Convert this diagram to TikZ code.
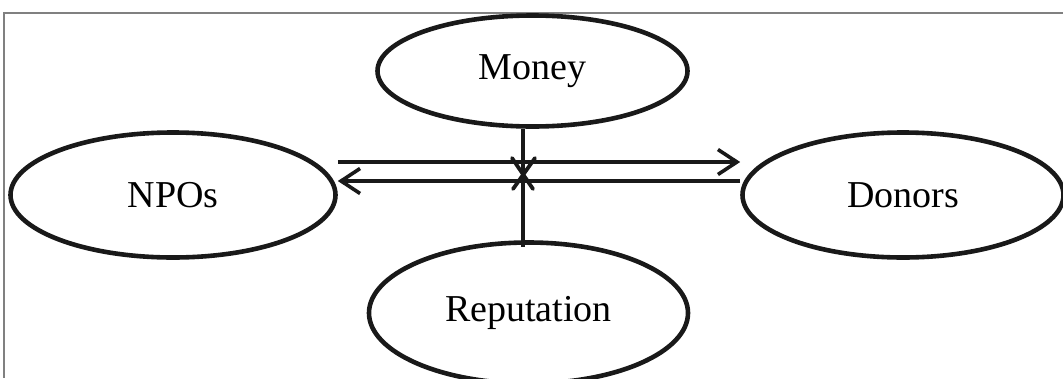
\documentclass[tikz,border=0pt]{standalone}
\usepackage{fontspec}
\setmainfont{Liberation Serif}
\usetikzlibrary{shapes.geometric,arrows.meta}
\begin{document}
\begin{tikzpicture}[x=1pt,y=-1pt,
  oval/.style={draw=black!90,line width=4.6pt,ellipse,inner sep=0pt,font=\fontsize{38}{40}\selectfont},
  arr/.style={draw=black!90,line width=3.6pt,-{Straight Barb[length=19pt,width=25pt,line width=3.6pt]}},
  frame/.style={draw=black!50,line width=1.8pt}]
\useasboundingbox (0,0) rectangle (1063,378);
\draw[frame] (1063,13) -- (4,13) -- (4,378);
\node[oval,minimum width=310pt,minimum height=111pt] (money) at (532.5,71) {Money};
\node[oval,minimum width=325pt,minimum height=125pt] (npos) at (173,195) {NPOs};
\node[oval,minimum width=321pt,minimum height=125pt] (donors) at (903,195) {Donors};
\node[oval,minimum width=319pt,minimum height=141pt] (rep) at (528.5,313) {Reputation};
\draw[arr] ([yshift=33pt]npos.east) -- ([yshift=33pt]donors.west);
\draw[arr] ([yshift=14pt]donors.west) -- ([yshift=14pt]npos.east);
\coordinate (top) at ([xshift=-9.5pt]money.south);
\coordinate (bot) at (top |- 0,247);
\draw[draw=black!90,line width=4pt] (top) -- (bot);
\coordinate (c) at (top |- 0,173);
\draw[draw=black!90,line width=3.8pt,line cap=round] (c) ++(-11,-15) -- ++(21,31);
\draw[draw=black!90,line width=3.8pt,line cap=round] (c) ++(12,-15) -- ++(-22,31);
\end{tikzpicture}
\end{document}
